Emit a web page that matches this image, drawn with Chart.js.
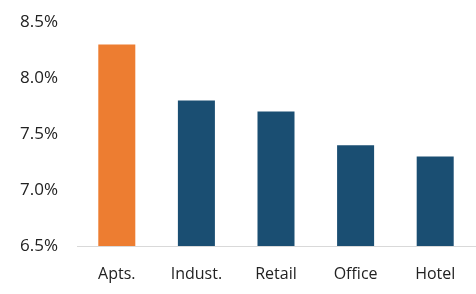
<!DOCTYPE html>
<html>
<head>
<meta charset="utf-8">
<script src="https://cdn.jsdelivr.net/npm/chart.js@4"></script>
<style>
  html, body { margin: 0; padding: 0; background: #fff; }
  #wrap { width: 476px; height: 294px; }
</style>
</head>
<body>
<div id="wrap"><canvas id="grafico"></canvas></div>
<script>
// ----------------------- data --------------------------------------------//
var categories = ['Apts.', 'Indust.', 'Retail', 'Office', 'Hotel'];
var yields = [8.3, 7.8, 7.7, 7.4, 7.3];
var barColors = ['#ED7D31', '#1A4E72', '#1A4E72', '#1A4E72', '#1A4E72'];
var yTicks = [6.5, 7.0, 7.5, 8.0, 8.5];

var data = {
  labels: categories,
  datasets: [
    {
      data: yields,
      backgroundColor: barColors,
      barPercentage: 0.465,
      categoryPercentage: 1
    }
  ]
};

var options = {
  responsive: true,
  maintainAspectRatio: false,
  animation: false,
  layout: { padding: { top: 22, right: 1, bottom: 0, left: 0 } },
  plugins: { legend: { display: false }, tooltip: { enabled: false } },
  scales: {
    x: {
      afterFit: function (axis) { axis.height = 48; },
      grid: { display: false, drawTicks: false },
      border: { display: true, color: '#D9D9D9', width: 1 },
      ticks: { color: '#222', padding: 19, font: { family: 'Open Sans', size: 16 } }
    },
    y: {
      min: 6.5,
      max: 8.5,
      afterBuildTicks: function (axis) {
        axis.ticks = yTicks.map(function (v) { return { value: v }; });
      },
      afterFit: function (axis) {
        axis.width = 77;
        axis.paddingTop = 0;
        axis.paddingBottom = 0;
      },
      grid: { display: false, drawTicks: false },
      border: { display: false },
      ticks: {
        color: '#222',
        padding: 19,
        font: { family: 'Open Sans', size: 17 },
        callback: function (v) { return v.toFixed(1) + '%'; }
      }
    }
  }
};

var ctx = document.getElementById('grafico').getContext('2d');
var grafico = new Chart(ctx, { type: 'bar', data: data, options: options });
</script>
</body>
</html>
